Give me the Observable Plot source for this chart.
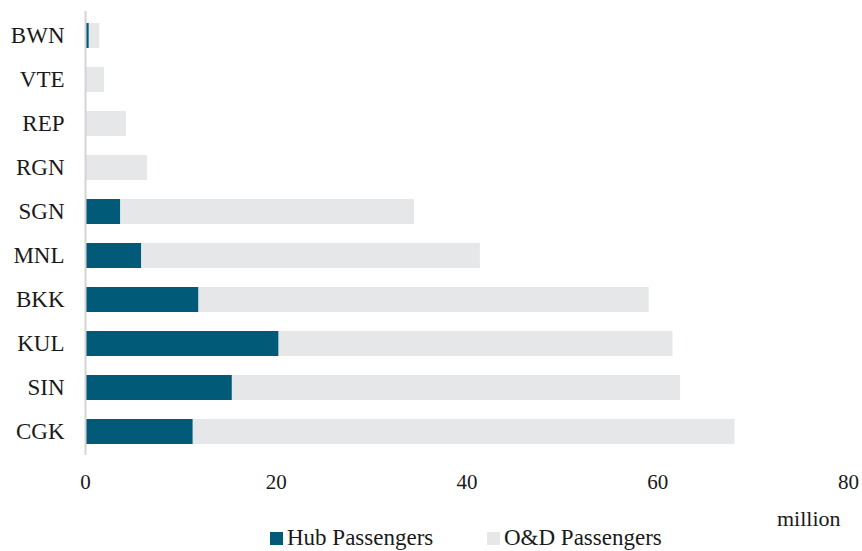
<!DOCTYPE html>
<html>
<head>
<meta charset="utf-8">
<script src="https://cdn.jsdelivr.net/npm/d3@7"></script>
<script src="https://cdn.jsdelivr.net/npm/@observablehq/plot@0.6"></script>
<style>
  html, body { margin: 0; padding: 0; background: #fff; }
  #wrap { position: relative; width: 862px; height: 551px; font-family: "Liberation Serif", "Times New Roman", serif; color: #1a1a1a; }
  #legend { position: absolute; left: 0; top: 525px; width: 862px; height: 26px; font-size: 23px; white-space: nowrap; }
  #unit { position: absolute; left: 777px; top: 506px; font-size: 22px; }
  .sw { display: inline-block; width: 13px; height: 13px; margin-right: 4px; }
  .item { position: absolute; top: 0; display: flex; align-items: center; }
</style>
</head>
<body>
<div id="wrap"></div>
<script>
const airports = ["BWN", "VTE", "REP", "RGN", "SGN", "MNL", "BKK", "KUL", "SIN", "CGK"];
const hubPassengers = [0.4, 0, 0, 0.1, 3.7, 5.9, 11.9, 20.3, 15.4, 11.3];
const odPassengers = [1.1, 2.0, 4.3, 6.4, 30.8, 35.5, 47.2, 41.3, 47.0, 56.8];
const seriesNames = ["Hub Passengers", "O&D Passengers"];
const seriesColors = ["#005a78", "#e6e7e8"];
const xTicks = [0, 20, 40, 60, 80];
const unitLabel = "million";

const rows = [];
airports.forEach((a, i) => {
  rows.push({airport: a, series: seriesNames[0], value: hubPassengers[i]});
  rows.push({airport: a, series: seriesNames[1], value: odPassengers[i]});
});

const chart = Plot.plot({
  width: 862,
  height: 527,
  marginLeft: 85,
  marginRight: 14,
  marginTop: 11,
  marginBottom: 72,
  style: {fontFamily: "'Liberation Serif', 'Times New Roman', serif", fontSize: "21px", color: "#1a1a1a", background: "#fff"},
  x: {domain: [0, 80]},
  y: {domain: airports, paddingInner: 0.44, paddingOuter: 0.2},
  color: {domain: seriesNames, range: seriesColors},
  marks: [
    Plot.barX(rows, Plot.stackX({y: "airport", x: "value", fill: "series", order: seriesNames, inset: 0})),
    Plot.ruleX([0], {stroke: "#d4d4d4", strokeWidth: 2}),
    Plot.axisY({tickSize: 0, tickPadding: 21, fontSize: 23, label: null}),
    Plot.axisX({ticks: xTicks, tickSize: 0, tickPadding: 19, tickFormat: d => String(d), label: null})
  ]
});
document.getElementById("wrap").appendChild(chart);

const unit = document.createElement("div");
unit.id = "unit";
unit.textContent = unitLabel;
document.getElementById("wrap").appendChild(unit);

const legend = document.createElement("div");
legend.id = "legend";
const legendLeft = [270, 487];
seriesNames.forEach((n, i) => {
  const item = document.createElement("span");
  item.className = "item";
  item.style.left = legendLeft[i] + "px";
  const sw = document.createElement("span");
  sw.className = "sw";
  sw.style.background = seriesColors[i];
  item.appendChild(sw);
  item.appendChild(document.createTextNode(n));
  legend.appendChild(item);
});
document.getElementById("wrap").appendChild(legend);
</script>
</body>
</html>
